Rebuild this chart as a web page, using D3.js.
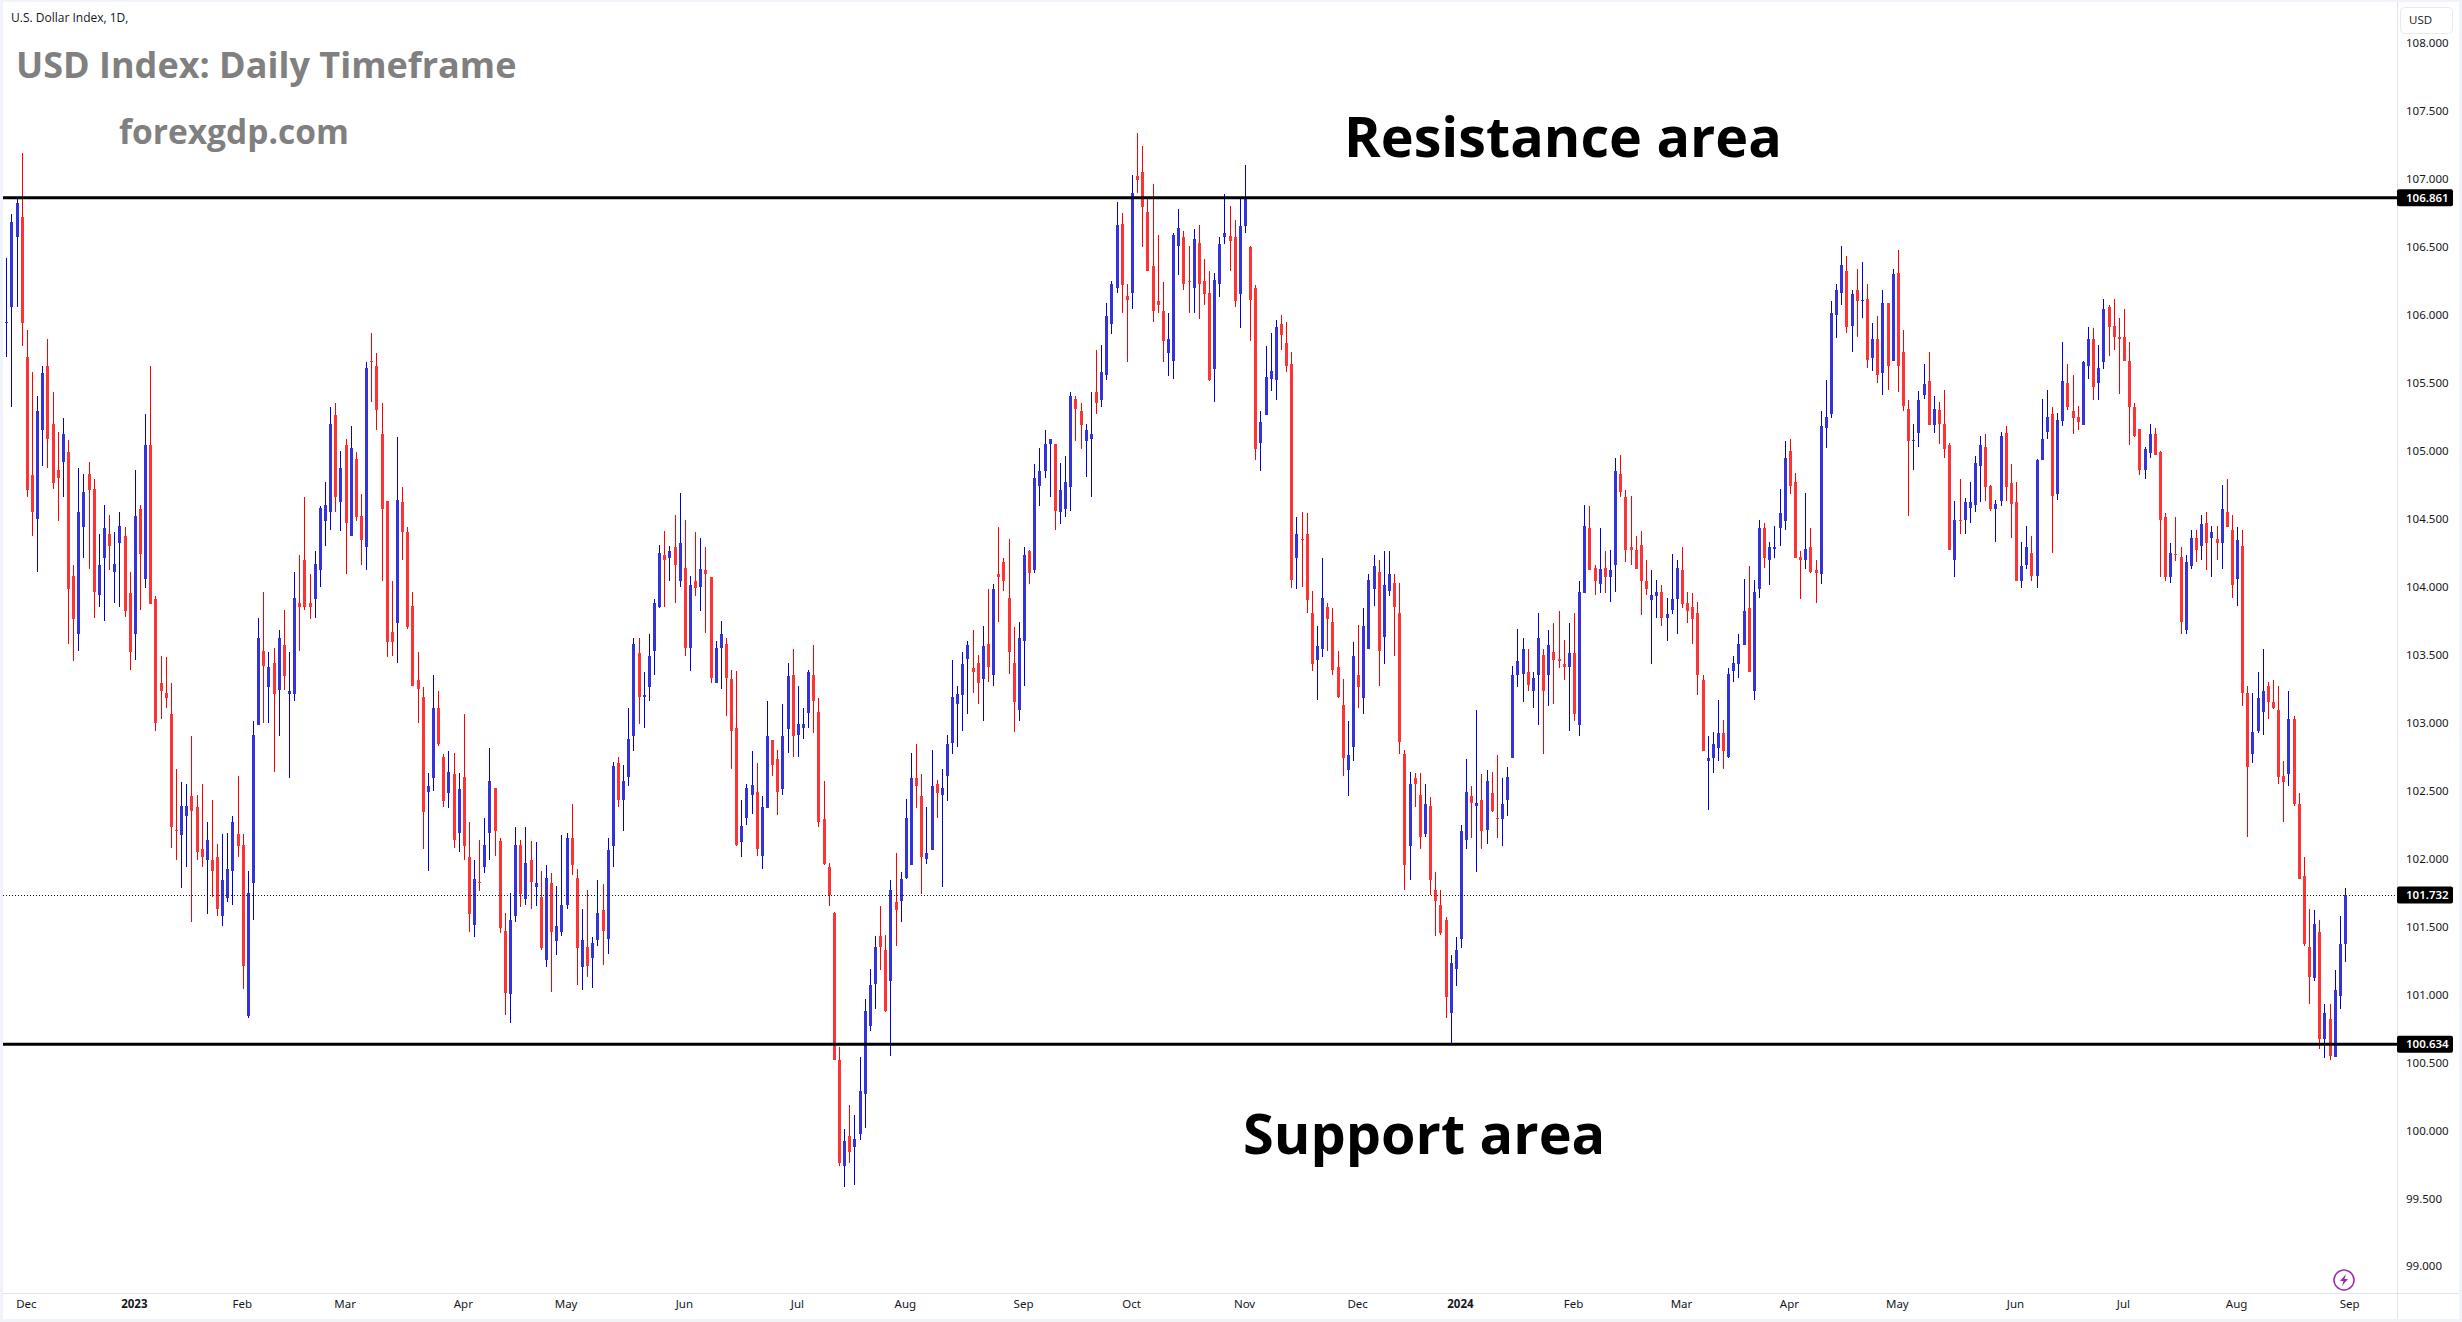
<!DOCTYPE html>
<html>
<head>
<meta charset="utf-8">
<title>USD Index: Daily Timeframe</title>
<script src="https://cdn.jsdelivr.net/npm/d3@7"></script>
<style>
  body { margin: 0; background: #fff; }
  text { font-family: "Open Sans", sans-serif; }
  .axis text { font-size: 11.5px; fill: #131722; font-family: "Noto Sans", sans-serif; }
  .axis .domain { display: none; }
</style>
</head>
<body>
<div id="chart"></div>
<script>
var opens = [
105.94,106.06,106.57,106.72,105.69,104.82,104.50,105.15,105.62,105.20,
104.86,104.92,104.99,104.08,103.65,104.44,104.83,104.72,103.94,104.21,
104.39,104.11,104.32,104.37,103.95,103.65,104.57,104.06,105.04,103.91,
103.29,103.22,103.06,102.21,102.17,102.31,102.46,102.38,102.07,101.99,
101.99,102.01,101.58,101.71,101.91,102.18,102.10,100.84,101.82,102.98,
103.53,103.26,103.44,103.24,103.57,103.21,103.21,103.88,104.20,103.88,
103.91,104.12,104.48,104.55,105.26,104.62,105.04,104.37,104.94,104.52,
104.29,105.66,105.62,105.12,104.63,103.67,103.73,104.62,104.40,103.86,
103.31,103.19,102.49,102.59,103.11,102.75,102.48,102.62,102.19,102.60,
102.01,101.51,101.83,101.94,102.19,102.52,102.13,101.47,101.00,101.58,
102.10,101.70,101.99,101.79,101.72,101.25,101.82,101.39,101.46,101.66,
102.15,101.86,101.20,101.35,101.27,101.40,101.62,101.41,102.09,102.70,
102.43,102.60,102.90,103.51,103.19,103.26,103.53,103.85,104.23,104.21,
104.29,104.04,104.14,103.55,104.04,104.00,104.12,104.07,103.29,103.55,
103.58,103.32,102.96,102.12,102.30,102.47,102.49,102.02,102.37,102.87,
102.73,102.51,102.95,103.35,102.91,102.96,103.07,103.35,103.08,102.29,
101.94,101.60,100.52,99.74,99.96,99.88,99.97,100.27,100.77,101.08,
101.43,101.33,101.10,101.68,101.69,101.86,101.95,102.59,102.46,102.00,
102.06,102.55,102.47,102.61,102.85,103.14,103.20,103.47,103.40,103.44,
103.32,103.58,103.35,104.09,104.18,103.92,103.44,103.09,103.60,104.26,
104.12,104.74,104.85,105.05,105.05,104.55,104.57,104.73,105.38,105.29,
105.07,105.09,105.43,105.37,105.56,105.93,106.20,106.67,106.14,106.16,
107.02,107.05,106.76,106.36,106.10,106.03,105.72,105.66,106.51,106.57,
106.25,106.20,106.53,106.25,106.16,105.60,106.23,106.57,106.58,106.57,
106.15,106.65,106.50,106.20,105.06,105.26,105.53,105.52,105.93,105.79,
105.64,104.21,104.35,104.39,103.81,103.46,103.54,103.85,103.74,103.41,
103.13,102.65,102.82,103.35,103.18,103.54,103.98,104.11,103.63,103.97,
104.03,103.81,102.77,102.09,102.59,102.47,102.18,102.39,101.77,101.66,
101.55,100.86,101.19,101.41,102.14,102.46,102.39,102.43,102.21,102.48,
102.30,102.29,102.43,102.74,103.35,103.36,103.37,103.23,103.35,103.50,
103.35,103.52,103.47,103.43,103.41,103.51,102.98,103.95,104.43,104.14,
104.02,104.14,104.07,104.16,104.83,104.66,104.29,104.27,104.31,104.04,
103.90,103.93,103.96,103.77,103.83,103.91,104.12,103.88,103.85,103.81,
103.31,102.72,102.74,102.81,102.92,102.75,103.38,103.43,103.57,103.84,
103.23,103.98,104.43,104.20,104.28,104.43,104.48,105.00,104.77,104.22,
104.20,104.29,104.12,104.09,105.17,105.27,106.00,106.16,106.32,105.92,
106.18,106.10,106.12,105.68,105.82,105.57,106.09,105.66,106.31,105.73,
105.31,105.07,105.13,105.41,105.51,105.19,105.30,105.20,105.04,104.20,
104.49,104.49,104.58,104.60,104.89,105.03,104.74,104.57,104.63,105.13,
104.76,104.62,104.04,104.16,104.25,104.08,104.93,105.14,105.27,104.68,
105.22,105.50,105.29,105.25,105.19,105.62,105.82,105.50,105.65,106.06,
105.92,105.84,105.84,105.66,105.32,105.16,104.86,104.98,105.12,104.99,
104.51,104.07,104.24,104.22,103.68,104.15,104.36,104.30,104.47,104.36,
104.35,104.32,104.55,104.42,104.06,104.30,103.22,102.77,102.94,103.08,
103.27,103.15,103.09,102.61,102.62,103.03,102.40,101.87,101.35,101.12,
101.46,100.67,100.82,100.54,100.99,101.37];

var closes = [
105.95,106.68,106.82,105.94,104.71,104.55,105.29,105.57,105.09,104.76,
104.80,105.12,103.98,103.76,104.55,104.70,104.71,103.96,104.16,104.43,
104.30,104.17,104.45,103.82,103.52,104.52,104.24,105.04,103.87,103.00,
103.23,103.18,102.23,102.20,102.39,102.39,102.35,102.05,102.01,102.14,
101.91,101.63,101.84,101.92,102.27,102.09,101.21,101.75,102.91,103.62,
103.42,103.41,103.21,103.62,103.34,103.23,103.92,103.85,103.85,103.85,
104.17,104.58,104.60,105.20,104.66,104.87,104.47,105.02,104.51,104.34,
105.61,105.65,105.30,104.57,103.59,103.59,104.64,104.40,103.70,103.27,
103.25,102.34,102.53,103.11,102.84,102.42,102.64,102.14,102.51,102.09,
101.59,101.85,101.82,102.10,102.57,102.20,101.49,101.01,101.55,102.10,
101.74,101.97,101.83,101.82,101.34,101.86,101.46,101.50,101.66,102.15,
101.95,101.34,101.40,101.21,101.38,101.60,101.47,102.06,102.68,102.43,
102.57,102.88,103.58,103.19,103.20,103.49,103.88,104.25,104.20,104.26,
104.16,104.32,103.55,104.01,103.99,104.13,104.09,103.33,103.55,103.65,
103.33,102.94,102.10,102.24,102.52,102.54,102.07,102.38,102.90,102.69,
102.49,102.90,103.34,102.90,102.99,102.99,103.37,103.16,102.27,101.96,
101.73,100.52,99.76,99.92,99.84,99.94,100.29,100.88,101.07,101.35,
101.35,100.88,101.77,101.62,101.85,102.30,102.59,102.53,102.01,102.04,
102.53,102.48,102.52,102.84,103.19,103.21,103.43,103.57,103.37,103.29,
103.56,103.41,103.98,104.07,104.04,103.52,103.15,103.62,104.23,104.10,
104.80,104.85,105.05,105.09,104.56,104.71,104.77,105.40,105.31,105.19,
105.15,105.12,105.35,105.58,105.99,106.23,106.66,106.22,106.11,106.90,
106.99,106.79,106.32,106.03,106.07,105.81,105.82,106.59,106.64,106.23,
106.24,106.56,106.23,106.15,105.52,106.26,106.52,106.60,106.54,106.10,
106.65,106.87,106.11,105.01,105.21,105.54,105.59,105.91,105.85,105.62,
104.05,104.39,104.34,103.90,103.43,103.56,103.92,103.76,103.39,103.19,
102.74,102.76,103.49,103.26,103.71,104.05,104.15,103.53,104.01,104.09,
103.85,102.86,101.95,102.55,102.55,102.16,102.40,101.84,101.69,101.45,
100.98,101.23,101.33,102.20,102.49,102.41,102.41,102.20,102.57,102.35,
102.29,102.40,102.60,103.35,103.45,103.54,103.28,103.33,103.62,103.23,
103.57,103.46,103.45,103.41,103.51,103.06,103.96,104.45,104.12,104.04,
104.13,104.07,104.12,104.85,104.70,104.27,104.27,104.13,104.04,103.98,
103.94,103.96,103.77,103.80,103.91,104.14,103.87,103.82,103.76,103.35,
102.79,102.74,102.84,102.92,102.79,103.36,103.44,103.58,103.82,103.37,
103.96,104.43,104.21,104.29,104.29,104.54,104.95,104.74,104.21,104.20,
104.28,104.11,104.10,105.18,105.25,106.01,106.18,106.37,105.91,106.15,
106.10,106.11,105.67,105.82,105.56,106.09,105.62,106.30,105.62,105.33,
105.07,105.08,105.37,105.49,105.19,105.31,105.20,105.01,104.27,104.49,
104.48,104.62,104.62,104.91,105.04,104.73,104.57,104.61,105.11,104.73,
104.61,104.04,104.15,104.29,104.08,104.93,105.09,105.25,104.67,105.23,
105.51,105.32,105.24,105.21,105.65,105.82,105.47,105.61,106.04,105.91,
105.84,105.82,105.66,105.32,105.11,104.86,105.01,105.12,104.97,104.49,
104.07,104.25,104.23,103.74,104.18,104.36,104.27,104.46,104.32,104.40,
104.32,104.57,104.44,104.01,104.34,103.22,102.67,102.93,103.18,103.23,
103.15,103.11,102.60,102.56,103.03,102.40,101.85,101.37,101.13,101.52,
100.67,100.86,100.55,101.03,101.37,101.73];

var highs = [
106.42,106.74,106.87,107.19,105.89,105.58,105.40,105.62,105.82,105.43,
105.14,105.24,105.08,104.16,104.87,104.83,104.92,104.79,104.39,104.60,
104.53,104.40,104.55,104.44,104.11,104.86,104.60,105.27,105.62,103.93,
103.49,103.48,103.29,102.66,102.56,102.55,102.90,102.47,102.55,102.27,
102.43,102.11,102.18,102.19,102.31,102.61,102.18,101.91,103.01,103.77,
103.96,103.52,103.55,103.68,103.83,103.52,104.11,104.23,104.66,104.09,
104.26,104.59,104.77,105.32,105.35,105.00,105.09,105.18,104.99,104.68,
105.65,105.87,105.72,105.35,104.63,104.04,105.10,104.73,104.44,103.96,
103.52,103.26,102.63,103.35,103.23,102.77,102.79,102.78,102.63,103.06,
102.27,101.99,102.14,102.30,102.81,102.52,102.15,101.60,101.75,102.23,
102.14,102.23,102.13,102.12,101.91,101.95,101.89,101.80,102.17,102.19,
102.40,101.92,101.63,101.77,101.42,101.84,101.81,102.15,102.71,102.75,
102.69,103.11,103.62,103.62,103.37,103.65,103.91,104.31,104.41,104.30,
104.53,104.69,104.49,104.08,104.40,104.36,104.29,104.07,103.60,103.75,
103.62,103.39,103.38,102.43,102.55,102.79,102.70,102.46,103.16,102.87,
102.80,103.14,103.44,103.54,103.27,103.11,103.39,103.57,103.18,102.57,
101.97,101.61,100.61,100.01,100.19,100.11,100.54,100.97,101.19,101.43,
101.65,101.44,101.84,102.04,101.90,102.44,102.78,102.84,102.62,102.38,
102.80,102.58,102.66,102.91,103.46,103.27,103.52,103.60,103.68,103.50,
103.71,103.98,104.02,104.44,104.21,104.35,103.70,103.74,104.29,104.27,
104.90,105.02,105.15,105.09,105.05,104.91,104.96,105.43,105.40,105.35,
105.20,105.43,105.74,105.78,106.09,106.25,106.83,106.75,106.23,107.03,
107.34,107.24,106.85,106.96,106.59,106.24,106.01,106.60,106.78,106.62,
106.51,106.63,106.66,106.41,106.32,106.31,106.57,106.89,106.80,106.70,
106.85,107.10,106.51,106.22,105.29,105.77,105.87,105.96,106.00,105.95,
105.73,104.51,104.55,104.54,103.97,103.71,104.21,103.88,103.84,103.53,
103.32,103.01,103.59,103.72,103.84,104.09,104.23,104.20,104.26,104.26,
104.09,104.03,102.80,102.64,102.63,102.63,102.55,102.45,101.90,101.77,
101.57,101.29,101.42,102.25,102.73,102.53,103.09,102.62,102.65,102.64,
102.76,102.59,102.67,103.42,103.69,103.62,103.54,103.37,103.81,103.54,
103.68,103.73,103.82,103.61,103.73,103.81,104.04,104.60,104.59,104.16,
104.43,104.26,104.27,104.95,104.97,104.71,104.67,104.37,104.41,104.20,
104.12,104.05,104.01,103.92,104.24,104.20,104.29,103.96,103.95,103.89,
103.35,102.90,102.93,103.17,103.02,103.40,103.49,103.65,104.06,104.15,
104.05,104.49,104.47,104.33,104.45,104.72,105.07,105.09,104.84,104.26,
104.69,104.43,104.20,105.29,105.52,106.10,106.23,106.51,106.43,106.18,
106.34,106.39,106.23,105.94,105.99,106.18,106.09,106.34,106.48,105.89,
105.37,105.20,105.44,105.64,105.73,105.40,105.36,105.45,105.06,104.63,
104.79,104.65,104.77,104.96,105.11,105.12,104.75,104.64,105.14,105.18,
104.90,104.77,104.33,104.45,104.37,104.94,105.38,105.45,105.32,105.28,
105.80,105.64,105.56,105.33,105.66,105.91,105.90,105.78,106.12,106.07,
106.12,105.98,106.04,105.80,105.35,105.16,105.03,105.20,105.17,105.00,
104.54,104.32,104.51,104.29,104.23,104.42,104.42,104.53,104.55,104.45,
104.45,104.75,104.79,104.53,104.44,104.42,103.27,103.22,103.37,103.54,
103.30,103.31,103.27,102.72,103.23,103.05,102.48,102.01,101.63,101.62,
101.55,100.93,100.93,101.18,101.58,101.78];

var lows = [
105.69,105.32,106.06,105.77,104.66,104.37,104.11,104.89,104.87,104.72,
104.48,104.66,103.58,103.45,103.53,104.21,104.13,103.77,103.85,103.75,
104.12,103.88,103.85,103.78,103.39,103.46,103.83,103.99,103.87,102.94,
103.03,103.11,102.08,101.99,101.78,101.94,101.53,101.99,101.94,101.59,
101.72,101.58,101.50,101.68,101.66,102.01,101.04,100.83,101.55,102.98,
103.00,103.00,102.64,102.90,103.24,102.59,103.16,103.53,103.83,103.76,
103.77,104.00,104.30,104.42,104.55,104.41,104.09,104.37,104.48,104.16,
104.12,105.36,105.15,104.04,103.48,103.49,103.44,104.20,103.69,103.27,
103.00,102.07,101.91,102.50,102.83,102.38,102.37,102.08,102.05,101.99,
101.46,101.42,101.76,101.89,101.99,102.02,101.45,100.85,100.79,101.53,
101.64,101.66,101.63,101.65,101.33,101.20,101.02,101.29,101.43,101.63,
101.88,101.07,101.03,101.13,101.05,101.36,101.22,101.30,101.94,102.38,
102.20,102.53,102.79,102.99,102.96,103.16,103.35,103.84,103.85,104.04,
103.88,104.00,103.49,103.38,103.93,103.82,103.66,103.29,103.29,103.25,
103.05,102.66,102.09,102.01,102.25,102.33,102.02,101.92,102.37,102.61,
102.32,102.47,102.78,102.75,102.75,102.88,102.96,102.92,102.23,101.95,
101.65,100.52,99.74,99.58,99.76,99.60,99.93,100.02,100.73,100.89,
101.18,100.87,100.55,101.36,101.53,101.85,101.95,102.37,101.74,101.96,
102.06,102.30,101.79,102.42,102.77,102.82,102.94,103.06,103.22,103.14,
103.01,103.30,103.27,103.74,103.97,103.36,102.93,103.01,103.27,104.02,
104.10,104.59,104.80,104.66,104.42,104.46,104.51,104.56,105.07,105.01,
104.81,104.66,105.27,105.32,105.52,105.86,106.16,106.01,105.65,106.04,
106.90,106.50,106.32,105.95,106.01,105.65,105.55,105.53,106.29,106.18,
106.01,106.01,105.97,106.07,105.51,105.36,106.13,106.52,106.32,106.06,
105.90,106.60,105.81,104.93,104.85,105.26,105.44,105.37,105.74,105.58,
103.99,103.98,104.00,103.81,103.38,103.17,103.48,103.53,103.35,103.18,
102.61,102.46,102.72,103.11,103.06,103.54,103.86,103.27,103.43,103.93,
103.49,102.77,101.77,101.84,102.38,102.07,102.16,101.73,101.43,101.44,
100.83,100.63,101.06,101.34,102.07,102.15,101.90,102.07,102.11,102.34,
102.15,102.09,102.31,102.74,103.26,103.15,103.23,103.11,102.98,102.77,
103.12,103.14,103.40,103.31,102.94,103.01,102.90,103.95,104.12,103.94,
103.95,103.95,103.89,103.96,104.66,104.18,104.16,104.13,103.79,103.94,
103.43,103.77,103.71,103.60,103.80,103.65,103.84,103.73,103.58,103.20,
102.79,102.36,102.63,102.72,102.66,102.74,103.30,103.33,103.57,103.37,
103.17,103.92,104.14,104.01,104.21,104.30,104.42,104.68,104.21,103.91,
104.13,104.10,103.88,104.02,105.02,105.24,105.83,106.07,105.87,105.73,
105.84,105.98,105.61,105.59,105.50,105.41,105.45,105.66,105.43,105.29,
104.52,104.86,105.03,105.38,105.19,105.13,105.05,104.95,104.27,104.07,
104.39,104.39,104.47,104.55,104.62,104.63,104.56,104.33,104.59,104.63,
104.36,104.04,103.99,104.13,104.04,103.99,104.93,105.09,104.25,104.64,
105.18,105.30,105.12,105.15,105.19,105.53,105.37,105.37,105.60,105.70,
105.74,105.42,105.66,105.04,105.10,104.82,104.79,104.95,104.97,104.07,
104.04,104.03,104.19,103.65,103.65,104.13,104.18,104.20,104.12,104.07,
104.20,104.13,104.44,103.92,103.86,103.12,102.16,102.70,102.92,102.91,
103.03,103.10,102.55,102.27,102.53,102.39,101.85,101.36,100.93,101.10,
100.60,100.53,100.52,100.54,100.89,101.24];

var priceTicks = [99,99.5,100,100.5,101,101.5,102,102.5,103,103.5,104,104.5,105,105.5,106,106.5,107,107.5,108];
var timeLabels = ["Dec","2023","Feb","Mar","Apr","May","Jun","Jul","Aug","Sep","Oct","Nov","Dec","2024","Feb","Mar","Apr","May","Jun","Jul","Aug","Sep"];
var timeBars = [4,25,46,66,89,109,132,154,175,198,219,241,263,283,305,326,347,368,391,412,434,456];
var resistance = 106.861, support = 100.634, lastPrice = 101.732;

var width = 2462, height = 1322;
var plotRight = 2397, plotBottom = 1293;

var svg = d3.select("#chart").append("svg")
    .attr("width", width)
    .attr("height", height)
    .style("display", "block");

// outer frame of the screenshot
svg.append("rect").attr("width", width).attr("height", height).attr("fill", "#f0f3fa");
svg.append("rect").attr("x", 3).attr("y", 2).attr("width", 2456).attr("height", 1317).attr("fill", "#fff");

var x = d3.scaleLinear().domain([0, 455]).range([6.33, 2345]);
var y = d3.scaleLinear().domain([99, 108]).range([1266.3, 43]);

var up = function(i) { return closes[i] >= opens[i]; };
var bars = d3.range(opens.length);

// wicks
svg.append("g").selectAll("rect")
  .data(bars)
  .enter().append("rect")
    .attr("x", function(i) { return Math.round(x(i)); })
    .attr("width", 1)
    .attr("y", function(i) { return y(highs[i]); })
    .attr("height", function(i) { return y(lows[i]) - y(highs[i]); })
    .attr("fill", function(i) { return up(i) ? "#0000d8" : "#ff0000"; })
    .attr("shape-rendering", "crispEdges");

// bodies
svg.append("g").selectAll("rect")
  .data(bars)
  .enter().append("rect")
    .attr("x", function(i) { return Math.round(x(i)) - 1; })
    .attr("width", 3)
    .attr("y", function(i) { return y(Math.max(opens[i], closes[i])); })
    .attr("height", function(i) { return Math.max(1, Math.abs(y(opens[i]) - y(closes[i]))); })
    .attr("fill", function(i) { return up(i) ? "#3333dd" : "#ff3333"; })
    .attr("shape-rendering", "crispEdges");

// last price line
svg.append("line")
    .attr("x1", 3).attr("x2", plotRight)
    .attr("y1", Math.round(y(lastPrice)) + 0.5).attr("y2", Math.round(y(lastPrice)) + 0.5)
    .attr("stroke", "#131722").attr("stroke-dasharray", "1,2");

// support and resistance
[resistance, support].forEach(function(level) {
  svg.append("line")
      .attr("x1", 3).attr("x2", plotRight)
      .attr("y1", y(level)).attr("y2", y(level))
      .attr("stroke", "#000").attr("stroke-width", 3);
});

// axis borders
svg.append("line").attr("x1", plotRight + 0.5).attr("x2", plotRight + 0.5).attr("y1", 2).attr("y2", 1319).attr("stroke", "#e0e3eb");
svg.append("line").attr("x1", 3).attr("x2", 2459).attr("y1", plotBottom + 0.5).attr("y2", plotBottom + 0.5).attr("stroke", "#e0e3eb");

svg.append("g")
    .attr("class", "axis")
    .attr("transform", "translate(" + plotRight + ",0)")
    .call(d3.axisRight(y).tickValues(priceTicks).tickSize(0).tickPadding(9).tickFormat(d3.format(".3f")));

svg.append("g")
    .attr("class", "axis")
    .attr("transform", "translate(-1," + plotBottom + ")")
    .call(d3.axisBottom(x).tickValues(timeBars).tickSize(0).tickPadding(7)
      .tickFormat(function(d, i) { return timeLabels[i]; }))
  .selectAll("text")
    .style("font-weight", function(d, i) { return /^\d/.test(timeLabels[i]) ? "700" : "400"; });

// price tags
[resistance, lastPrice, support].forEach(function(level) {
  svg.append("rect")
      .attr("x", plotRight).attr("y", y(level) - 8.5)
      .attr("width", 56).attr("height", 17).attr("rx", 2)
      .attr("fill", "#000");
  svg.append("text")
      .attr("x", plotRight + 9).attr("y", y(level))
      .attr("dy", "0.35em")
      .attr("fill", "#fff")
      .style("font-family", "'Noto Sans', sans-serif")
      .style("font-size", "11.5px")
      .style("font-weight", "600")
      .text(d3.format(".3f")(level));
});

// labels
function label(txt, px, py, size, weight, color) {
  svg.append("text")
      .attr("x", px).attr("y", py)
      .attr("fill", color)
      .style("font-size", size + "px")
      .style("font-weight", weight)
      .text(txt);
}
label("U.S. Dollar Index, 1D,", 11, 22, 12, 400, "#131722");
label("USD Index: Daily Timeframe", 16, 78, 36, 700, "#808080");
label("forexgdp.com", 119, 144, 33.5, 700, "#808080");
label("Resistance area", 1344, 157, 55.7, 700, "#000");
label("Support area", 1243, 1154, 55.8, 700, "#000");

// currency box on top of the price axis
svg.append("rect").attr("x", 2400.5).attr("y", 7.5).attr("width", 52).attr("height", 26).attr("rx", 4)
    .attr("fill", "#fff").attr("stroke", "#e8eaf0");
label("USD", 2409, 24, 11.5, 400, "#131722");

// lightning badge next to the last bar
var badge = svg.append("g").attr("transform", "translate(2344,1280)");
badge.append("circle").attr("r", 10).attr("fill", "none").attr("stroke", "#9c27b0").attr("stroke-width", 1.5);
badge.append("path").attr("d", "M2,-6 L-4,1 L-0.5,1 L-2,6 L4,-1 L0.5,-1 Z").attr("fill", "#9c27b0");
</script>
</body>
</html>
